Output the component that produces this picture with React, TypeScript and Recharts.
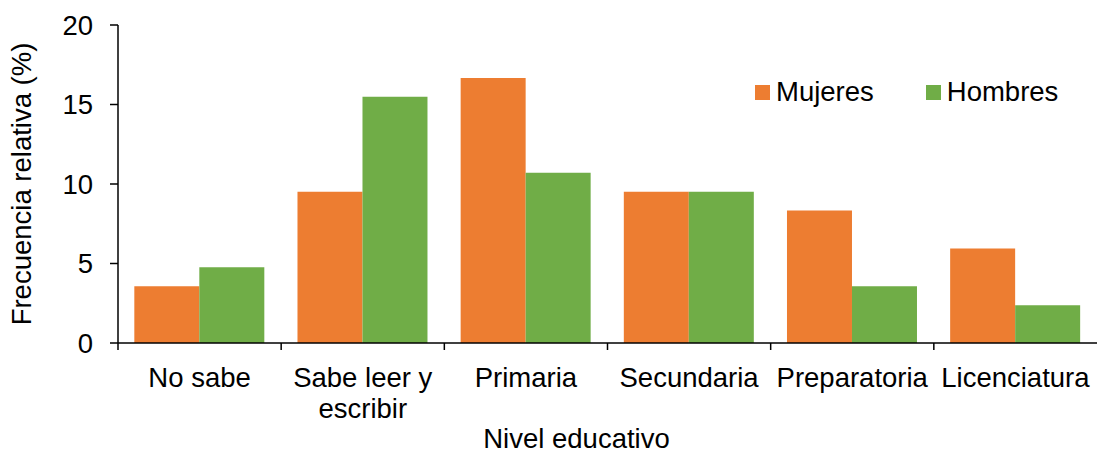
import * as React from "react";
import {
  BarChart,
  Bar,
  XAxis,
  YAxis,
  Legend,
} from "recharts";

const niveles = [
  "No sabe",
  "Sabe leer y escribir",
  "Primaria",
  "Secundaria",
  "Preparatoria",
  "Licenciatura",
];
const mujeres = [3.57, 9.52, 16.67, 9.52, 8.33, 5.95];
const hombres = [4.76, 15.48, 10.71, 9.52, 3.57, 2.38];
const yTicks = [0, 5, 10, 15, 20];

const FONT = '"Liberation Sans", Arial, sans-serif';
const FS = 27.5;
const ORANGE = "#ED7D31";
const GREEN = "#70AD47";

const W = 1097;
const H = 450;
const AXIS_W = 118;
const BAND = (W - AXIS_W) / niveles.length;

const data = niveles.map((nivel, i) => ({
  nivel,
  Mujeres: mujeres[i],
  Hombres: hombres[i],
}));

let measureCtx: CanvasRenderingContext2D | null = null;
function wrapWords(text: string, maxWidth: number): string[] {
  if (!measureCtx) {
    measureCtx = document.createElement("canvas").getContext("2d");
  }
  const ctx = measureCtx!;
  ctx.font = `${FS}px ${FONT}`;
  const words = text.split(" ");
  const lines: string[] = [];
  let cur = "";
  for (const w of words) {
    const next = cur ? cur + " " + w : w;
    if (cur && ctx.measureText(next).width > maxWidth) {
      lines.push(cur);
      cur = w;
    } else {
      cur = next;
    }
  }
  if (cur) lines.push(cur);
  return lines;
}

// label centred under the band, tick mark on the band's left edge (Excel style)
const CategoryTick = (props: any) => {
  const { x, y, payload } = props;
  const half = payload.offset > 0 ? payload.offset : BAND / 2;
  const lines = wrapWords(String(payload.value), BAND - 4);
  return (
    <g>
      <line
        x1={x - half}
        y1={y}
        x2={x - half}
        y2={y + 7}
        stroke="#000"
        strokeWidth={1.5}
      />
      <text
        x={x}
        y={y + 44}
        textAnchor="middle"
        fill="#000"
        style={{ fontSize: FS, fontFamily: FONT }}
      >
        {lines.map((ln, i) => (
          <tspan key={i} x={x} dy={i === 0 ? 0 : 31}>
            {ln}
          </tspan>
        ))}
      </text>
    </g>
  );
};

const LegendBox = () => (
  <div
    style={{
      display: "flex",
      alignItems: "center",
      fontFamily: FONT,
      fontSize: FS,
      lineHeight: "30px",
      color: "#000",
    }}
  >
    {[
      { name: "Mujeres", color: ORANGE },
      { name: "Hombres", color: GREEN },
    ].map((it, i) => (
      <div
        key={it.name}
        style={{ display: "flex", alignItems: "center", marginRight: i === 0 ? 52 : 0 }}
      >
        <span
          style={{
            display: "inline-block",
            width: 15,
            height: 15,
            background: it.color,
            marginRight: 6,
          }}
        />
        <span>{it.name}</span>
      </div>
    ))}
  </div>
);

export default function App() {
  return (
    <div
      style={{
        position: "absolute",
        left: 0,
        top: 0,
        width: W,
        height: H,
        background: "#fff",
        overflow: "hidden",
      }}
    >
      <BarChart
        width={W}
        height={H}
        data={data}
        margin={{ top: 25, right: 0, left: 0, bottom: 0 }}
        barCategoryGap="10%"
        barGap={0}
      >
        <XAxis
          dataKey="nivel"
          height={107}
          axisLine={{ stroke: "#000", strokeWidth: 1.5 }}
          tickLine={false}
          tickSize={0}
          tickMargin={0}
          interval={0}
          tick={<CategoryTick />}
          label={{
            content: (p: any) => {
              const vb = p.viewBox;
              return (
                <text
                  x={vb.x + vb.width / 2 - 31}
                  y={vb.y + vb.height - 2}
                  textAnchor="middle"
                  fill="#000"
                  style={{ fontSize: FS, fontFamily: FONT }}
                >
                  Nivel educativo
                </text>
              );
            },
          }}
        />
        <YAxis
          width={AXIS_W}
          domain={[0, 20]}
          ticks={yTicks}
          interval={0}
          axisLine={{ stroke: "#000", strokeWidth: 1.5 }}
          tickLine={{ stroke: "#000", strokeWidth: 1.5 }}
          tickSize={8}
          tickMargin={17}
          tick={{ fill: "#000", fontSize: FS, fontFamily: FONT }}
          label={{
            content: (p: any) => {
              const vb = p.viewBox;
              const cx = 21;
              const cy = vb.y + vb.height / 2;
              return (
                <text
                  x={cx}
                  y={cy}
                  dy="0.355em"
                  textAnchor="middle"
                  transform={`rotate(-90 ${cx} ${cy})`}
                  fill="#000"
                  style={{ fontSize: FS, fontFamily: FONT }}
                >
                  Frecuencia relativa (%)
                </text>
              );
            },
          }}
        />
        <Legend
          verticalAlign="middle"
          align="center"
          content={<LegendBox />}
          wrapperStyle={{ position: "absolute", left: 755, top: 77, width: "auto" }}
        />
        <Bar dataKey="Mujeres" fill={ORANGE} isAnimationActive={false} />
        <Bar dataKey="Hombres" fill={GREEN} isAnimationActive={false} />
      </BarChart>
    </div>
  );
}
